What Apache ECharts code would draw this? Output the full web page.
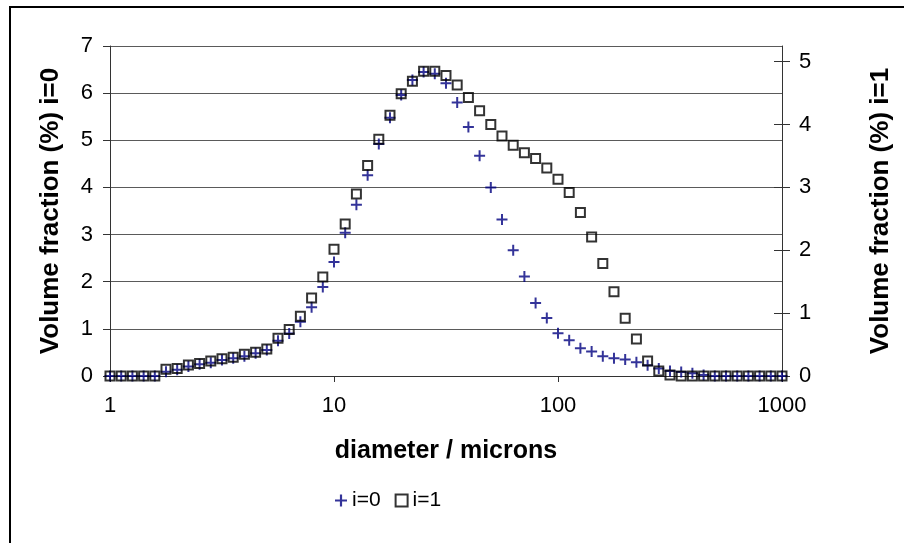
<!DOCTYPE html>
<html>
<head>
<meta charset="utf-8">
<script src="https://cdn.jsdelivr.net/npm/echarts@6/dist/echarts.min.js"></script>
<style>
html,body{margin:0;padding:0;background:#fff;}
#chart{width:904px;height:543px;}
</style>
</head>
<body>
<div id="chart"></div>
<script>
// diameters (microns), 20 points per decade
var diameters = [1, 1.122, 1.259, 1.413, 1.585, 1.778, 1.995, 2.239, 2.512, 2.818,
  3.162, 3.548, 3.981, 4.467, 5.012, 5.623, 6.310, 7.079, 7.943, 8.913,
  10, 11.22, 12.59, 14.13, 15.85, 17.78, 19.95, 22.39, 25.12, 28.18,
  31.62, 35.48, 39.81, 44.67, 50.12, 56.23, 63.10, 70.79, 79.43, 89.13,
  100, 112.2, 125.9, 141.3, 158.5, 177.8, 199.5, 223.9, 251.2, 281.8,
  316.2, 354.8, 398.1, 446.7, 501.2, 562.3, 631.0, 707.9, 794.3, 891.3, 1000];

// Volume fraction (%) i=0  (left axis)
var volI0 = [0, 0, 0, 0, 0, 0.09, 0.13, 0.20, 0.25, 0.28,
  0.34, 0.375, 0.42, 0.48, 0.55, 0.75, 0.90, 1.15, 1.46, 1.89,
  2.42, 3.04, 3.63, 4.26, 4.92, 5.48, 5.96, 6.28, 6.45, 6.41,
  6.21, 5.80, 5.28, 4.67, 4.00, 3.32, 2.67, 2.11, 1.55, 1.23,
  0.905, 0.76, 0.59, 0.52, 0.42, 0.375, 0.35, 0.29, 0.23, 0.16,
  0.106, 0.085, 0.057, 0.02, 0, 0, 0, 0, 0, 0, 0];

// Volume fraction (%) i=1  (right axis)
var volI1 = [0, 0, 0, 0, 0, 0.107, 0.12, 0.175, 0.20, 0.24,
  0.275, 0.30, 0.345, 0.377, 0.43, 0.60, 0.74, 0.95, 1.24, 1.575,
  2.016, 2.42, 2.895, 3.35, 3.765, 4.15, 4.49, 4.69, 4.85, 4.85,
  4.78, 4.63, 4.43, 4.22, 4.00, 3.82, 3.67, 3.55, 3.46, 3.31,
  3.13, 2.92, 2.60, 2.21, 1.79, 1.34, 0.92, 0.59, 0.24, 0.08,
  0.015, 0, 0, 0, 0, 0, 0, 0, 0, 0, 0];

var rightTicks = [0, 1, 2, 3, 4, 5];

var FONT = "'Liberation Sans', Arial, sans-serif";
function pairs(xs, ys) { return xs.map(function (x, i) { return [x, ys[i]]; }); }

var plusPath = 'path://M4.5,0h2v4.5h4.5v2h-4.5v4.5h-2v-4.5h-4.5v-2h4.5z';

var chart = echarts.init(document.getElementById('chart'), null, { renderer: 'canvas' });
chart.setOption({
  animation: false,
  backgroundColor: '#fff',
  graphic: [{
    type: 'rect', z: 100, silent: true,
    shape: { x: 10, y: 7, width: 1000, height: 1000 },
    style: { fill: 'none', stroke: '#000', lineWidth: 2 }
  }],
  grid: { left: 110, right: 122, top: 46, bottom: 167, containLabel: false },
  legend: {
    left: 330, top: 485,
    itemWidth: 12, itemHeight: 12, itemGap: 14,
    textStyle: { fontFamily: FONT, fontSize: 21, color: '#000' },
    data: ['i=0', 'i=1']
  },
  xAxis: {
    type: 'log', logBase: 10, min: 1, max: 1000,
    name: 'diameter / microns', nameLocation: 'middle', nameGap: 63,
    nameTextStyle: { fontFamily: FONT, fontSize: 25, fontWeight: 'bold', color: '#000' },
    axisLine: { show: true, onZero: false, lineStyle: { color: '#333', width: 1 } },
    axisTick: { show: true, inside: false, length: 6, lineStyle: { color: '#333' } },
    minorTick: { show: false },
    axisLabel: {
      fontFamily: FONT, fontSize: 22, color: '#000', margin: 19,
      formatter: function (v) { return String(Math.round(v)); }
    },
    splitLine: { show: false }
  },
  yAxis: [{
    type: 'value', position: 'left', min: 0, max: 7, interval: 1,
    name: 'Volume fraction (%) i=0', nameLocation: 'middle', nameGap: 46,
    nameTextStyle: { fontFamily: FONT, fontSize: 26, fontWeight: 'bold', color: '#000' },
    axisLine: { show: true, lineStyle: { color: '#333', width: 1 } },
    axisTick: { show: true, inside: false, length: 7, lineStyle: { color: '#333' } },
    axisLabel: { fontFamily: FONT, fontSize: 22, color: '#000', margin: 17 },
    splitLine: { show: true, lineStyle: { color: '#5a5a5a', width: 1 } }
  }, {
    type: 'value', position: 'right', min: 0, max: 5.25, interval: 1,
    name: 'Volume fraction (%) i=1', nameLocation: 'middle', nameGap: 86,
    nameRotate: 90,
    nameTextStyle: { fontFamily: FONT, fontSize: 26, fontWeight: 'bold', color: '#000' },
    axisLine: { show: true, lineStyle: { color: '#333', width: 1 } },
    axisTick: { show: true, inside: false, length: 8, customValues: rightTicks, lineStyle: { color: '#333' } },
    axisLabel: { fontFamily: FONT, fontSize: 22, color: '#000', margin: 17, customValues: rightTicks },
    splitLine: { show: false }
  }, {
    type: 'value', position: 'right', min: 0, max: 5.25, interval: 1,
    axisLine: { show: false },
    axisTick: { show: true, inside: true, length: 8, customValues: rightTicks, lineStyle: { color: '#333' } },
    axisLabel: { show: false },
    splitLine: { show: false }
  }],
  series: [{
    name: 'i=0', type: 'scatter', yAxisIndex: 0,
    symbol: plusPath, symbolSize: 11,
    itemStyle: { color: '#000080' },
    data: pairs(diameters, volI0)
  }, {
    name: 'i=1', type: 'scatter', yAxisIndex: 1,
    symbol: 'rect', symbolSize: 9,
    itemStyle: { color: 'rgba(0,0,0,0)', borderColor: '#000', borderWidth: 2 },
    data: pairs(diameters, volI1)
  }]
});
</script>
</body>
</html>
